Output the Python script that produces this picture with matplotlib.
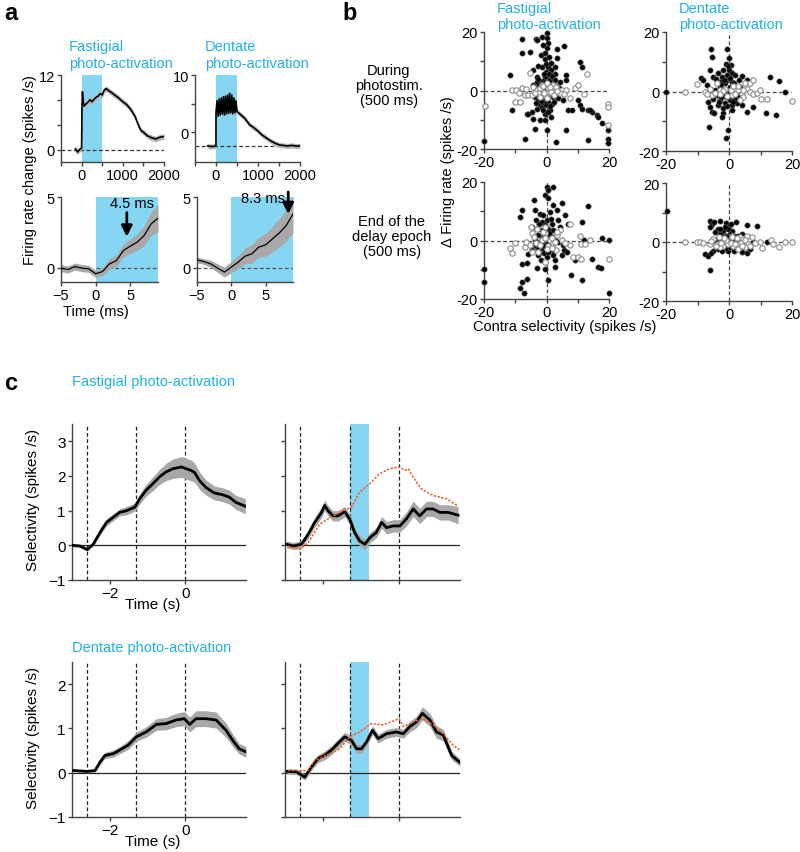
import numpy as np
import matplotlib.pyplot as plt

plt.rcParams['font.family'] = ['Liberation Sans', 'DejaVu Sans']

BLUE = '#86d6f3'
CYAN = '#1fb1ea'
ORANGE = '#f15a22'
AX = '#444444'
BAND = '#a8a8a8'

# ---- panel a: PSTH of light-evoked responses ----
fas_t = [-150, -100, -50, 0, 10, 20, 40, 60, 100, 150, 200, 250, 300, 350, 400, 450, 500,
         550, 600, 650, 700, 800, 900, 1000, 1100, 1200, 1300, 1350, 1400, 1450, 1500,
         1600, 1700, 1800, 1900, 2000]
fas_fr = [0.1, -0.4, 0.0, 0.2, 7.0, 9.3, 7.8, 7.0, 7.3, 7.6, 8.0, 7.7, 8.1, 8.4, 8.6, 9.0, 8.8,
          9.6, 9.8, 9.5, 9.3, 8.8, 8.3, 7.7, 7.2, 6.4, 5.3, 4.4, 3.6, 3.0, 2.8,
          2.2, 1.9, 1.7, 2.0, 2.1]
den_t = [-200, -100, -1, 0, 25, 50, 75, 100, 125, 150, 175, 200, 225, 250, 275, 300, 325, 350,
         375, 400, 425, 450, 475, 500, 550, 600, 700, 800, 900, 1000, 1100, 1200, 1300, 1400,
         1500, 1600, 1700, 1800, 1900, 2000]
den_fr = [-2.4, -2.5, -2.4, 3.5, 5.5, 2.8, 5.8, 3.0, 6.0, 3.2, 6.2, 3.0, 6.3, 3.2, 6.5, 3.3, 6.8,
          3.4, 6.5, 3.2, 6.0, 3.4, 5.5, 3.6, 3.3, 3.0, 2.3, 1.3, 0.8, 0.2, -0.5, -1.0, -1.5, -1.9,
          -2.2, -2.3, -2.4, -2.3, -2.4, -2.4]
den_base = -2.4

lat_t = [-5, -4, -3, -2, -1, 0, 1, 2, 3, 4, 5, 6, 7, 8, 9]
fas_lat = [-0.02, -0.12, 0.09, -0.02, -0.07, -0.42, -0.26, 0.28, 0.51, 1.22, 1.53, 1.81, 2.28, 3.1, 3.5]
fas_lat_e = [0.25, 0.25, 0.25, 0.25, 0.25, 0.25, 0.3, 0.35, 0.4, 0.45, 0.5, 0.6, 0.7, 0.8, 1.0]
den_lat = [0.56, 0.44, 0.28, -0.02, -0.3, 0.05, 0.4, 0.82, 0.99, 1.46, 1.62, 2.04, 2.46, 2.98, 3.8]
den_lat_e = [0.2, 0.2, 0.25, 0.3, 0.35, 0.4, 0.45, 0.55, 0.65, 0.7, 0.8, 0.9, 1.0, 1.1, 1.3]
fas_latency = 4.5
den_latency = 8.3

# ---- panel b: scatter (contra selectivity, delta firing rate) ----
fas_dur_fill = [(-8.0, 17.6), (-8.0, 12.9), (-3.5, 17.5), (-2.9, 17.3), (-1.4, 18.4), (0.2, 19.5),
                (0, 17.8), (0.5, 16.3), (-1.0, 15.5), (0.2, 14.4), (-1.7, 12.1), (-0.6, 12.7),
                (-0.5, 10.6), (0.9, 11.5), (3.2, 11.0), (5.7, 15.2), (3.2, 14.2), (-5.2, 13.0),
                (-2.7, 8.3), (-4.3, 7.0), (-1.6, 8.1), (0.5, 8.1), (1.4, 7.0), (2.7, 5.8),
                (6.1, 5.3), (10.7, 9.8), (11.2, 8.1), (-11.8, 5.3), (-2.9, 4.5), (-0.5, 4.7),
                (1.1, 4.1), (2.7, 3.5), (4.3, 3.0), (6.1, 3.5), (-1.6, 2.4), (0, 1.8), (1.6, 1.3),
                (-3.7, 0.7), (-2.1, -0.5), (-0.5, 0.1), (1.1, -1.0), (-3.7, -2.2), (-2.7, -3.3),
                (-1.1, -2.7), (0.5, -3.9), (2.1, -2.2), (3.7, -2.7), (5.3, -3.3), (7.0, -6.7),
                (8.0, -6.7), (10.2, -3.3), (10.7, -5.0), (11.2, -6.2), (13.4, -6.7), (14.4, -7.3),
                (16.0, -8.5), (16.6, -9.0), (17.6, -11.1), (19.8, -13.6), (19.8, -16.5),
                (19.8, -17.8), (13.9, -6.5), (-6.4, -7.9), (-5.9, -7.9), (-4.8, -7.3), (-3.2, -6.2),
                (-2.1, -5.0), (-4.3, -9.6), (-2.1, -10.2), (-0.5, -10.2), (-3.7, -13.0), (0, -13.6),
                (6.1, -13.6), (-7.0, -16.5), (3.0, -17.6), (13.4, -17.0), (-20.0, -17.3),
                (-10.9, -6.7), (-1.4, -5.6), (-0.5, -7.9), (1.1, -6.7), (1.4, -9.0),
                (-2.5, 1.5), (-1.0, 3.2), (0.8, 2.6), (2.2, 0.9), (-1.8, -1.5), (0.3, -2.0),
                (1.8, -4.6), (-3.0, 3.0), (2.8, 8.0), (-0.2, 6.2), (-1.2, -4.0), (0.9, 5.8),
                (-3.0, -1.2), (-2.2, 2.0), (-1.4, -1.8), (-0.6, 2.9), (0.4, -0.8), (1.2, 2.2),
                (2.0, -1.5), (2.9, 1.6), (-2.6, 4.0), (-0.9, 5.5), (0.7, 3.4), (1.9, 4.8),
                (-3.4, -4.2), (-1.9, -3.6), (-0.3, -4.8), (1.0, -5.2), (2.4, -3.9), (3.4, -1.0),
                (-4.2, 1.8), (4.0, 1.0), (-0.1, 9.0), (1.5, 9.5), (-1.0, -6.6), (0.6, -7.2)]
fas_dur_open = [(-19.8, -5.3), (-11.2, 0.1), (-9.8, 0.1), (-8.8, -1.0), (-10.2, -3.9), (-8.6, -3.9),
                (-8.0, 0.7), (-7.0, -1.6), (-5.9, -1.6), (-5.3, 6.1), (-4.3, 1.3), (-3.2, 0.1),
                (-2.1, 0.7), (-1.1, -0.5), (0.5, 0.7), (1.6, 0.1), (2.7, -0.5), (3.7, 0.3),
                (4.8, 0.1), (6.1, 0.3), (7.5, -2.7), (9.1, 1.0), (10.2, 1.8), (12.1, -1.3),
                (12.8, 5.8), (19.8, -4.5), (19.8, -5.6), (19.8, -11.9), (-4.6, -1.6), (-0.5, -1.6),
                (2.1, 1.8), (4.3, -1.0), (-2.6, -0.9), (0.9, -0.4), (3.0, 1.2), (-1.5, 1.8),
                (-2.0, -2.2), (-0.8, -1.0), (0.2, -2.5), (1.4, -0.6), (2.4, -1.6), (3.2, -0.2),
                (-3.6, -0.8), (-1.2, 1.5), (0.0, 2.6), (1.0, 1.2), (5.5, -1.2), (-6.5, 0.5)]

den_dur_fill = [(-5.7, 14.3), (-5.3, 11.7), (-0.5, 14.2), (0, 11.1), (-1.1, 9.4), (0.6, 8.9),
                (0, 7.2), (-1.8, 7.2), (-6.0, 7.2), (-5.0, 4.9), (-9.0, 4.7), (-8.1, 3.8),
                (-7.1, 2.1), (-3.4, 6.1), (-2.3, 4.9), (-0.7, 5.5), (0.8, 6.1), (1.9, 5.5),
                (4.0, 5.2), (3.3, 3.8), (5.6, 4.0), (13.0, 4.9), (16.0, 3.5), (17.8, -0.1),
                (-20.0, -0.1), (-6.6, -3.5), (-6.0, -5.2), (-5.5, -6.9), (-4.7, -7.2), (-1.8, -7.2),
                (0.8, -6.3), (4.0, -4.6), (5.6, -6.9), (7.7, -5.2), (11.7, -7.2), (14.9, -8.0),
                (-6.2, -11.9), (-2.3, -8.5), (-1.0, -15.5), (-0.2, -13.0), (-3.9, -1.2),
                (-2.9, -2.9), (-1.3, -4.0), (0.3, -2.9), (1.9, -2.4), (-4.4, 0.4), (-2.9, 1.6),
                (-1.3, 2.7), (0.3, 1.6), (1.4, -0.1), (3.0, -1.2), (3.5, 1.6), (-5.0, -2.4),
                (-3.4, -4.6), (-0.7, -0.7), (2.4, -4.0), (-2.3, -0.7), (-1.0, 3.8), (1.0, 3.2),
                (-0.5, -2.0), (-3.0, 3.2),
                (-3.6, -0.4), (-2.6, 0.8), (-1.6, -1.6), (-0.9, 0.6), (0.2, -0.3), (1.0, -1.8),
                (2.0, 0.3), (-4.8, -1.0), (-3.2, -3.6), (-1.8, -5.5), (-0.5, -5.0), (0.9, -4.5),
                (-2.6, 2.4), (-1.6, 4.0), (0.4, 4.5), (1.5, 2.8), (-4.2, 4.2), (-0.3, 8.5),
                (-2.4, -2.0), (1.2, -3.6)]
den_dur_open = [(-14.0, -0.1), (-10.1, 2.5), (-7.6, -0.1), (-6.0, 1.0), (-3.9, 2.7), (-2.9, 0.4),
                (-1.3, 1.0), (1.9, 1.0), (3.0, 0.4), (4.0, -0.7), (5.1, 2.7), (5.6, 1.0),
                (6.7, 2.7), (7.5, 4.0), (6.7, -0.1), (7.7, -0.7), (8.8, -0.4), (9.8, 0.4),
                (10.1, -2.4), (12.2, -2.4), (19.9, -3.1), (4.6, -1.8), (3.5, -2.9), (0.8, -1.2),
                (-5.5, -1.2), (-7.1, -0.7),
                (-1.8, 0.2), (-0.6, -1.6), (0.6, 0.4), (2.0, -0.8), (2.8, 1.8), (-4.6, -0.6),
                (-3.0, -1.0), (1.2, 1.8), (4.4, 0.6)]

fas_end_fill = [(0, 18.4), (2.1, 18.2), (0.5, 17.3), (-0.5, 15.5), (0.5, 14.4), (-4.0, 13.8),
                (2.1, 12.1), (4.8, 12.7), (13.2, 11.8), (-7.8, 10.4), (-8.6, 8.1), (-3.7, 10.4),
                (-2.1, 9.0), (-1.1, 8.7), (1.1, 9.8), (3.5, 10.4), (5.9, 8.7), (-3.5, 7.0),
                (-1.6, 6.4), (0, 7.0), (1.6, 5.8), (3.7, 7.0), (7.0, 5.8), (11.4, 6.4), (-4.8, 4.7),
                (-3.2, 4.1), (-1.6, 3.5), (0.5, 4.1), (2.1, 3.5), (4.3, 4.7), (-2.7, 1.8),
                (-1.1, 1.3), (1.1, 1.8), (2.7, 1.3), (-3.7, 0.1), (-2.1, -0.5), (-0.5, -1.0),
                (1.1, -1.6), (2.7, 0.1), (-3.2, -2.2), (-1.6, -3.3), (0, -2.7), (1.6, -3.3),
                (-2.7, -5.0), (0, -5.6), (2.1, -5.0), (4.8, -5.0), (-5.9, -4.5), (-4.8, -3.3),
                (5.7, -3.3), (6.4, -3.9), (9.1, -6.7), (-8.0, -8.1), (-6.1, -7.7), (-3.2, -9.3),
                (-0.5, -9.6), (2.7, -9.0), (7.8, -11.9), (14.4, -6.2), (16.6, -9.0), (17.4, -9.4),
                (12.1, 0.1), (17.9, 0.7), (20.0, 0.3), (-20.0, -9.8), (-20.0, -14.2), (-8.0, -14.2),
                (-8.6, -16.2), (-6.2, -13.0), (-7.3, -17.9), (0.5, -13.6), (11.4, -13.4),
                (20.0, -17.9), (3.7, -0.5), (5.3, -1.6), (-1.0, 2.5), (0.6, 0.4), (-0.8, -2.0),
                (-2.6, -1.3), (-1.5, 0.6), (-0.2, 1.8), (0.9, -0.6), (1.8, -2.2), (-2.2, -4.0),
                (-0.8, -4.4), (0.6, -4.0), (-3.8, -1.5), (-0.4, 5.2), (1.3, 7.5), (-2.4, 5.6),
                (2.8, -6.5), (-1.7, -6.8), (0.8, 2.6), (-1.2, -0.3)]
fas_end_open = [(-11.8, -2.7), (-10.9, -4.2), (-10.2, -0.8), (-7.0, -2.2), (-4.8, -4.1),
                (-5.3, -1.6), (-5.1, 4.7), (-4.8, 2.4), (-2.9, 4.1), (-1.6, 0.1), (-0.5, 2.4),
                (1.1, 0.1), (2.1, -1.0), (3.5, 1.8), (4.3, 3.5), (5.0, 0.3), (7.5, 5.6),
                (7.5, -1.6), (8.6, -5.6), (10.2, -5.6), (11.0, -6.2), (10.7, 1.5), (11.0, -1.3),
                (12.3, -1.3), (13.9, 0.1), (20.0, -6.2), (-0.5, -7.3), (2.9, -3.3), (-0.5, 4.7),
                (-2.7, -3.9),
                (-3.4, -0.8), (-2.0, -1.6), (-0.6, 0.8), (0.4, -1.8), (1.6, 1.0), (2.6, -0.4),
                (-1.2, 3.0), (3.2, 2.8), (-4.0, 1.2), (0.2, -3.0), (1.8, -2.6), (6.0, -1.0),
                (-6.5, -0.6)]

den_end_fill = [(-19.8, 10.4), (-6.0, 7.2), (-5.5, 6.1), (-4.7, 6.7), (-6.0, 5.2), (-2.9, 7.2),
                (-1.0, 6.3), (0.1, 5.5), (2.2, 6.7), (5.8, 5.8), (8.8, 5.5), (-3.4, 4.4),
                (-1.8, 3.8), (-0.2, 4.4), (0.8, 3.8), (-4.4, 3.3), (-2.9, 2.7), (-1.3, 2.1),
                (0.3, 2.7), (1.9, 2.1), (4.0, 2.7), (-3.9, 1.0), (-2.3, 0.5), (-0.7, 1.0),
                (0.8, 0.5), (2.4, 1.0), (7.5, -0.1), (12.2, -0.1), (-7.6, -4.1), (-6.6, -4.6),
                (-5.0, -2.9), (-3.4, -2.4), (-2.3, -3.2), (-0.2, -2.9), (1.6, -2.9), (4.0, -3.5),
                (5.6, -3.8), (6.7, -2.4), (-6.0, -9.5), (-0.7, 2.1),
                (-3.0, 4.4), (-1.2, 5.0), (0.6, 6.0), (-4.8, 0.8), (-2.0, 1.6), (-0.2, 1.6),
                (1.2, 1.4), (3.0, 2.0), (-2.8, -1.2), (-1.0, -2.0), (0.4, -1.6), (2.6, -2.2),
                (-5.8, -3.6)]
den_end_open = [(-14.0, -0.1), (-10.1, -0.1), (-9.2, -0.1), (-8.1, -0.5), (-6.0, -0.7), (-5.0, 1.0),
                (-3.4, -0.7), (-1.8, -1.2), (-0.2, -0.7), (1.4, -1.2), (3.0, -0.7), (3.5, 1.6),
                (4.5, 1.0), (5.6, 2.1), (6.1, -0.7), (7.2, 1.8), (5.1, -1.8), (9.8, -0.1),
                (10.4, -2.0), (13.2, 0.7), (14.1, -0.7), (16.0, -1.8), (17.8, -0.1), (19.9, -0.1),
                (3.0, -2.4), (-2.9, -1.8), (0.8, 2.1),
                (-4.2, -1.2), (-2.4, -0.2), (-0.8, 0.6), (0.6, -0.4), (2.0, -0.8), (3.8, -0.3),
                (5.0, 0.6), (6.6, -1.2), (-1.6, 1.4), (1.0, 1.6), (4.0, -1.4), (-3.2, 1.8),
                (2.6, 1.2), (8.2, -0.5), (-5.8, 0.2)]

# ---- panel c: population selectivity ----
events = [-2.6, -1.3, 0.0]
stim_win = [-1.3, -0.8]

fc_t = [-2.98, -2.79, -2.6, -2.44, -2.26, -2.09, -1.91, -1.74, -1.56, -1.34, -1.21, -1.04, -0.86,
        -0.68, -0.51, -0.33, -0.11, 0.02, 0.15, 0.24, 0.37, 0.54, 0.76, 0.98, 1.16, 1.33, 1.58]
fc_y = [0, -0.02, -0.12, 0.03, 0.37, 0.66, 0.81, 0.95, 1.0, 1.1, 1.34, 1.59, 1.78, 1.98, 2.12,
        2.21, 2.26, 2.21, 2.16, 2.1, 1.87, 1.67, 1.51, 1.46, 1.39, 1.24, 1.13]
fc_e = [0.04, 0.04, 0.05, 0.05, 0.08, 0.1, 0.1, 0.1, 0.12, 0.12, 0.15, 0.17, 0.2, 0.22, 0.25,
        0.28, 0.3, 0.3, 0.3, 0.28, 0.25, 0.22, 0.2, 0.2, 0.2, 0.2, 0.22]
fp_t = [-2.96, -2.79, -2.57, -2.39, -2.22, -2.04, -1.96, -1.87, -1.74, -1.61, -1.43, -1.3, -1.17,
        -1.04, -0.9, -0.77, -0.6, -0.46, -0.33, -0.16, 0.02, 0.19, 0.37, 0.54, 0.72, 0.89, 1.07,
        1.29, 1.55]
fp_y = [0.03, -0.02, 0.03, 0.32, 0.66, 0.95, 1.15, 1.0, 0.85, 0.85, 0.97, 0.76, 0.37, 0.13, 0.03,
        0.22, 0.37, 0.66, 0.51, 0.56, 0.56, 0.76, 1.05, 0.85, 1.05, 1.05, 0.95, 0.95, 0.87]
fp_e = [0.1, 0.1, 0.1, 0.12, 0.14, 0.15, 0.15, 0.15, 0.15, 0.15, 0.15, 0.15, 0.15, 0.15, 0.15,
        0.15, 0.15, 0.17, 0.18, 0.18, 0.18, 0.2, 0.22, 0.22, 0.22, 0.22, 0.22, 0.22, 0.25]
fo_t = [-2.92, -2.61, -2.39, -2.09, -1.82, -1.47, -1.25, -1.04, -0.77, -0.51, -0.25, 0.0, 0.15,
        0.25, 0.37, 0.59, 0.89, 1.25, 1.55]
fo_y = [-0.02, -0.12, 0.08, 0.61, 0.8, 1.0, 1.1, 1.53, 1.78, 2.07, 2.21, 2.26, 2.16, 2.2, 1.96,
        1.62, 1.44, 1.34, 1.13]

dc_t = [-2.96, -2.6, -2.39, -2.26, -2.13, -1.91, -1.74, -1.52, -1.3, -1.04, -0.77, -0.51, -0.25,
        -0.03, 0.11, 0.28, 0.54, 0.81, 1.07, 1.25, 1.42, 1.6]
dc_y = [0.05, 0.03, 0.05, 0.24, 0.39, 0.43, 0.51, 0.62, 0.81, 0.92, 1.09, 1.11, 1.19, 1.22, 1.09,
        1.22, 1.22, 1.19, 0.96, 0.73, 0.54, 0.47]
dc_e = [0.03, 0.03, 0.04, 0.06, 0.07, 0.08, 0.08, 0.1, 0.1, 0.12, 0.13, 0.14, 0.15, 0.16, 0.17,
        0.18, 0.18, 0.18, 0.16, 0.14, 0.12, 0.12]
dp_t = [-2.95, -2.7, -2.48, -2.31, -2.13, -1.96, -1.78, -1.61, -1.43, -1.25, -1.12, -0.99, -0.86,
        -0.7, -0.55, -0.33, -0.07, 0.11, 0.28, 0.46, 0.61, 0.81, 0.98, 1.16, 1.38, 1.6]
dp_y = [0.03, 0.02, -0.1, 0.13, 0.32, 0.39, 0.51, 0.66, 0.81, 0.73, 0.54, 0.54, 0.69, 0.96, 0.77,
        0.88, 0.92, 0.88, 1.04, 1.15, 1.34, 1.19, 0.92, 0.85, 0.39, 0.23]
dp_e = [0.06, 0.06, 0.07, 0.08, 0.09, 0.1, 0.1, 0.1, 0.1, 0.1, 0.1, 0.1, 0.1, 0.1, 0.1, 0.1, 0.1,
        0.1, 0.12, 0.13, 0.15, 0.15, 0.14, 0.13, 0.1, 0.08]
do_t = [-2.92, -2.39, -2.22, -1.91, -1.56, -1.3, -1.04, -0.73, -0.42, 0.0, 0.11, 0.37, 0.63, 0.89,
        1.16, 1.42, 1.6]
do_y = [0.05, 0.05, 0.28, 0.39, 0.54, 0.81, 0.92, 1.11, 1.08, 1.22, 1.04, 1.15, 1.22, 1.08, 0.88,
        0.62, 0.51]

W, H = 800, 853
fig = plt.figure(figsize=(8, 8.53), dpi=100)


def box(x0, y0, x1, y1):
    return fig.add_axes([x0 / W, 1 - y1 / H, (x1 - x0) / W, (y1 - y0) / H])


def ftext(x, y, s, **kw):
    fig.text(x / W, 1 - y / H, s, **kw)


def style(ax, fs=10.5):
    for s in ['top', 'right']:
        ax.spines[s].set_visible(False)
    for s in ['left', 'bottom']:
        ax.spines[s].set_color(AX)
        ax.spines[s].set_linewidth(1)
    ax.tick_params(which='both', direction='out', length=3, width=1, color=AX,
                   labelsize=fs, pad=1.5)
    ax.patch.set_alpha(0)


def band(ax, t, y, e, lw=1.0):
    t, y, e = np.array(t), np.array(y), np.array(e)
    ax.fill_between(t, y - e, y + e, color=BAND, lw=0, zorder=2)
    ax.plot(t, y, color='k', lw=lw, zorder=3)


# ---------------- panel a ----------------
for (x0, x1), t, fr, base, ylim, yt, ytl in [
        ((61, 164), fas_t, fas_fr, 0.0, (-2, 12), [0, 4, 8, 12], ['0', '', '', '12']),
        ((195, 300), den_t, den_fr, den_base, (-5.2, 10), [0, 5, 10], ['0', '', '10'])]:
    ax = box(x0, 76, x1, 163)
    style(ax)
    ax.axvspan(0, 500, color=BLUE, lw=0, zorder=0)
    ax.plot([-500, 2000], [base, base], ls=(0, (3, 2)), color='#333', lw=0.9, zorder=1)
    t, fr = np.array(t), np.array(fr)
    ax.fill_between(t, fr - 0.45, fr + 0.45, color='#b5b5b5', lw=0, zorder=2)
    ax.plot(t, fr, color='k', lw=1.2, zorder=3)
    ax.set_xlim(-500, 2000)
    ax.set_ylim(*ylim)
    ax.set_xticks([-500, 0, 500, 1000, 1500, 2000])
    ax.set_xticklabels(['', '0', '', '1000', '', '2000'])
    ax.set_yticks(yt)
    ax.set_yticklabels(ytl)

for (x0, x1), y, e, lat, lab_xy, arr in [
        ((61, 158), fas_lat, fas_lat_e, fas_latency, (5.3, 4.55), (3.9, 2.2)),
        ((197, 293), den_lat, den_lat_e, den_latency, (4.6, 4.9), (5.35, 3.8))]:
    ax = box(x0, 198, x1, 283)
    style(ax)
    ax.axvspan(0, 9, color=BLUE, lw=0, zorder=0)
    ax.plot([-5 if lat > 6 else 0, 9], [0, 0], ls=(0, (3, 2)), color='#555', lw=0.9, zorder=1)
    band(ax, lat_t, y, e, lw=0.9)
    ax.set_xlim(-5, 9)
    ax.set_ylim(-1, 5)
    ax.set_xticks([-5, 0, 5])
    ax.set_yticks([0, 5])
    ax.annotate('', xy=(lat, arr[1]), xytext=(lat, arr[0]), annotation_clip=False,
                arrowprops=dict(arrowstyle='-|>', color='k', lw=2, mutation_scale=16,
                                shrinkA=0, shrinkB=0))
    ax.text(lab_xy[0], lab_xy[1], '%.1f ms' % lat, ha='center', va='center', fontsize=10.5,
            zorder=5)

ftext(69, 47, 'Fastigial', color=CYAN, fontsize=10.5, va='center')
ftext(69, 64, 'photo-activation', color=CYAN, fontsize=10.5, va='center')
ftext(205, 47, 'Dentate', color=CYAN, fontsize=10.5, va='center')
ftext(205, 64, 'photo-activation', color=CYAN, fontsize=10.5, va='center')
ftext(30, 170, 'Firing rate change (spikes /s)', rotation=90, ha='center', va='center',
      fontsize=10.5)
ftext(96, 312, 'Time (ms)', ha='center', va='center', fontsize=10.5)

# ---------------- panel b ----------------
for (x0, y0, x1, y1), fill, opn in [
        ((484, 33, 609, 150), fas_dur_fill, fas_dur_open),
        ((666, 33, 792, 152), den_dur_fill, den_dur_open),
        ((484, 183, 609, 300), fas_end_fill, fas_end_open),
        ((666, 184, 792, 302), den_end_fill, den_end_open)]:
    ax = box(x0, y0, x1, y1)
    style(ax)
    ax.axhline(0, ls=(0, (3, 2)), color='#444', lw=0.9, zorder=1)
    ax.axvline(0, ls=(0, (3, 2)), color='#444', lw=0.9, zorder=1)
    f = np.array(fill)
    o = np.array(opn)
    ax.scatter(f[:, 0], f[:, 1], s=15, c='k', edgecolors='#666', linewidths=0.4,
               clip_on=False, zorder=3)
    ax.scatter(o[:, 0], o[:, 1], s=15, facecolors='white', edgecolors='#8a8a8a',
               linewidths=0.8, clip_on=False, zorder=4)
    ax.set_xlim(-20, 20)
    ax.set_ylim(-20, 20)
    ax.set_xticks([-20, -10, 0, 10, 20])
    ax.set_xticklabels(['-20', '', '0', '', '20'])
    ax.set_yticks([-20, -10, 0, 10, 20])
    ax.set_yticklabels(['-20', '', '0', '', '20'])

ftext(497, 9, 'Fastigial', color=CYAN, fontsize=10.5, va='center')
ftext(497, 25, 'photo-activation', color=CYAN, fontsize=10.5, va='center')
ftext(679, 9, 'Dentate', color=CYAN, fontsize=10.5, va='center')
ftext(679, 25, 'photo-activation', color=CYAN, fontsize=10.5, va='center')
ftext(389, 86, 'During\nphotostim.\n(500 ms)', ha='center', va='center', fontsize=10.5,
      linespacing=1.05)
ftext(392, 237, 'End of the\ndelay epoch\n(500 ms)', ha='center', va='center', fontsize=10.5,
      linespacing=1.05)
ftext(448, 172, '\u0394 Firing rate (spikes /s)', rotation=90, ha='center', va='center',
      fontsize=10.5)
ftext(565, 327, 'Contra selectivity (spikes /s)', ha='center', va='center', fontsize=10.5)

# ---------------- panel c ----------------
for y0, y1, ylim, yt, ctrl, photo, orange in [
        (425, 581, (-1, 3.5), [-1, 0, 1, 2, 3], (fc_t, fc_y, fc_e), (fp_t, fp_y, fp_e),
         (fo_t, fo_y)),
        (663, 818, (-1, 2.5), [-1, 0, 1, 2], (dc_t, dc_y, dc_e), (dp_t, dp_y, dp_e),
         (do_t, do_y))]:
    for x0, x1, right in [(72, 246, False), (285, 460, True)]:
        ax = box(x0, y0, x1, y1)
        style(ax, fs=11)
        ax.axhline(0, color='#222', lw=0.9, zorder=1)
        for ev in events:
            ax.axvline(ev, ls=(0, (3, 2)), color='#222', lw=0.9, zorder=1)
        if right:
            ax.axvspan(stim_win[0], stim_win[1], color=BLUE, lw=0, zorder=0)
            band(ax, *photo, lw=2.0)
            ax.plot(orange[0], orange[1], ls=(0, (1.5, 1)), color=ORANGE, lw=1.1, zorder=4)
        else:
            band(ax, *ctrl, lw=2.0)
        ax.set_xlim(-3, 1.6)
        ax.set_ylim(*ylim)
        ax.set_xticks([-2, 0])
        ax.set_yticks(yt)
        if right:
            ax.set_xticklabels([])
            ax.set_yticklabels([])
    ftext(33, (y0 + y1) / 2 - 3, 'Selectivity (spikes /s)', rotation=90, ha='center',
          va='center', fontsize=11)
    ftext(153, y1 + 24, 'Time (s)', ha='center', va='center', fontsize=11)

ftext(72, 382, 'Fastigial photo-activation', color=CYAN, fontsize=10.5, va='center')
ftext(72, 648, 'Dentate photo-activation', color=CYAN, fontsize=10.5, va='center')

ftext(4, 14, 'a', fontsize=17, fontweight='bold', va='center')
ftext(342, 14, 'b', fontsize=17, fontweight='bold', va='center')
ftext(4, 384, 'c', fontsize=17, fontweight='bold', va='center')

fig.savefig('out.png', dpi=100)
